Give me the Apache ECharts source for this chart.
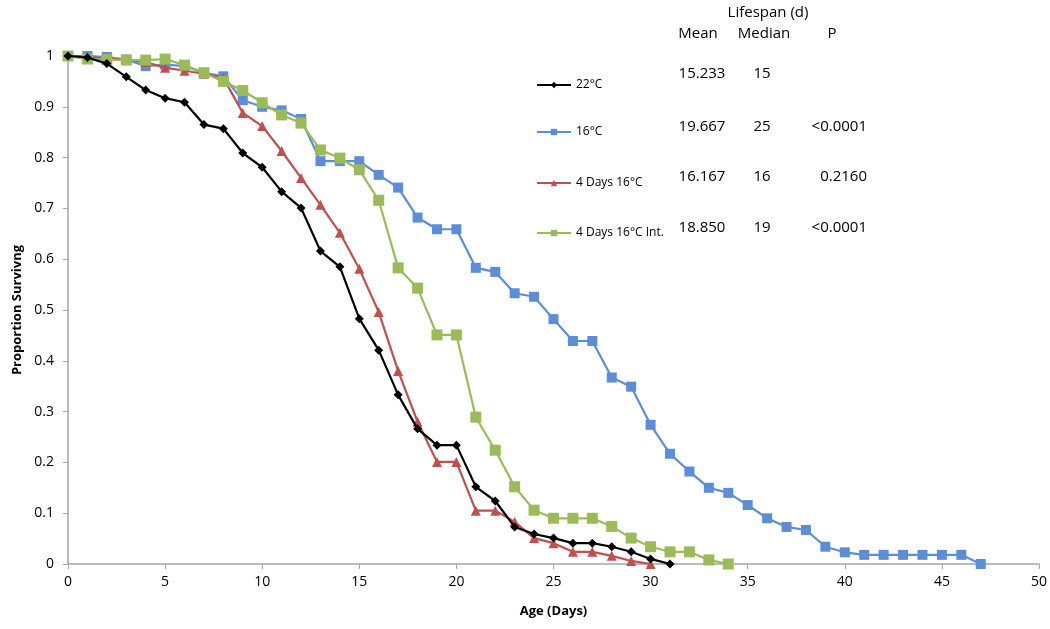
<!DOCTYPE html>
<html>
<head>
<meta charset="utf-8">
<script src="https://cdn.jsdelivr.net/npm/echarts@6/dist/echarts.min.js"></script>
<style>
html,body{margin:0;padding:0;background:#fff;}
#c{width:1050px;height:629px;}
</style>
</head>
<body>
<div id="c"></div>
<script>
// ---- data (proportion surviving per day, starting at day 0) ----
const seriesNames = ['22°C', '16°C', '4 Days 16°C', '4 Days 16°C Int.'];
const surv22 = [1, 0.997, 0.985, 0.959, 0.933, 0.917, 0.909, 0.865, 0.857, 0.809, 0.781, 0.733, 0.701, 0.616, 0.585, 0.483, 0.421, 0.333, 0.266, 0.234, 0.234, 0.152, 0.124, 0.073, 0.059, 0.051, 0.041, 0.041, 0.034, 0.024, 0.010, 0];
const surv16 = [1, 1, 0.998, 0.993, 0.98, 0.983, 0.98, 0.967, 0.96, 0.913, 0.9, 0.893, 0.876, 0.793, 0.793, 0.793, 0.766, 0.741, 0.682, 0.659, 0.659, 0.583, 0.575, 0.533, 0.526, 0.482, 0.439, 0.439, 0.367, 0.349, 0.274, 0.217, 0.182, 0.150, 0.140, 0.116, 0.090, 0.073, 0.067, 0.034, 0.023, 0.018, 0.018, 0.018, 0.018, 0.018, 0.018, 0];
const surv4d = [1, 0.998, 0.995, 0.993, 0.988, 0.977, 0.971, 0.965, 0.957, 0.888, 0.862, 0.813, 0.760, 0.707, 0.652, 0.581, 0.496, 0.380, 0.280, 0.201, 0.201, 0.105, 0.105, 0.083, 0.051, 0.041, 0.024, 0.024, 0.016, 0.006, 0];
const surv4dInt = [1, 0.994, 0.993, 0.992, 0.992, 0.994, 0.982, 0.967, 0.95, 0.932, 0.908, 0.884, 0.868, 0.815, 0.799, 0.776, 0.716, 0.583, 0.543, 0.451, 0.451, 0.289, 0.224, 0.152, 0.106, 0.090, 0.090, 0.090, 0.074, 0.051, 0.034, 0.024, 0.024, 0.008, 0];

// ---- lifespan table ----
const tableTitle = 'Lifespan (d)';
const tableHeaders = ['Mean', 'Median', 'P'];
const means = ['15.233', '19.667', '16.167', '18.850'];
const medians = ['15', '25', '16', '19'];
const pValues = ['', '<0.0001', '0.2160', '<0.0001'];

const colors = ['#000000', '#5b8ed6', '#c0504d', '#9bbb59'];
const symbols = ['diamond', 'rect', 'triangle', 'rect'];
const symbolSizes = [9, 10, 10, 11];
const allData = [surv22, surv16, surv4d, surv4dInt];
const zs = [5, 2, 3, 4];

const FONT = '"Open Sans", "Liberation Sans", sans-serif';

const series = allData.map((arr, i) => ({
  name: seriesNames[i],
  type: 'line',
  data: arr.map((v, d) => [d, v]),
  symbol: symbols[i],
  symbolSize: symbolSizes[i],
  showAllSymbol: true,
  z: zs[i],
  lineStyle: { color: colors[i], width: 2.2 },
  itemStyle: { color: colors[i] },
  emphasis: { disabled: true },
  animation: false
}));

const legendCenters = [85, 132, 183, 233];
const legends = seriesNames.map((n, i) => ({
  data: [n],
  left: 536,
  top: legendCenters[i] - 6,
  padding: 0,
  itemWidth: 34,
  itemHeight: 8,
  selectedMode: false,
  textStyle: { fontFamily: FONT, fontSize: 12, color: '#000' }
}));

const rowCenters = [74, 127, 177, 228];
const graphics = [];
const tfont = '15px ' + FONT;
graphics.push({ type: 'text', x: 768, y: 13, style: { text: tableTitle, font: tfont, fill: '#000', align: 'center', verticalAlign: 'middle' } });
const headerX = [698, 764, 832];
tableHeaders.forEach((h, j) => {
  graphics.push({ type: 'text', x: headerX[j], y: 34, style: { text: h, font: tfont, fill: '#000', align: 'center', verticalAlign: 'middle' } });
});
rowCenters.forEach((y, i) => {
  graphics.push({ type: 'text', x: 702, y: y, style: { text: means[i], font: tfont, fill: '#000', align: 'center', verticalAlign: 'middle' } });
  graphics.push({ type: 'text', x: 762, y: y, style: { text: medians[i], font: tfont, fill: '#000', align: 'center', verticalAlign: 'middle' } });
  if (pValues[i]) graphics.push({ type: 'text', x: 867, y: y, style: { text: pValues[i], font: tfont, fill: '#000', align: 'right', verticalAlign: 'middle' } });
});

const chart = echarts.init(document.getElementById('c'), null, { renderer: 'canvas' });
chart.setOption({
  backgroundColor: '#ffffff',
  animation: false,
  grid: { left: 68, right: 7, top: 56, bottom: 65, containLabel: false },
  xAxis: {
    type: 'value', min: 0, max: 50, interval: 5,
    name: 'Age (Days)', nameLocation: 'middle', nameGap: 41,
    nameTextStyle: { fontFamily: FONT, fontSize: 13, fontWeight: 'bold', color: '#000' },
    axisLine: { lineStyle: { color: '#a6a6a6', width: 1.5 } },
    axisTick: { show: true, length: 5, lineStyle: { color: '#a6a6a6' } },
    axisLabel: { fontFamily: FONT, fontSize: 14, color: '#000', margin: 11 },
    splitLine: { show: false }
  },
  yAxis: {
    type: 'value', min: 0, max: 1, interval: 0.1,
    name: 'Proportion Survivng', nameLocation: 'middle', nameGap: 42, nameRotate: 90,
    nameTextStyle: { fontFamily: FONT, fontSize: 13, fontWeight: 'bold', color: '#000' },
    axisLine: { show: true, lineStyle: { color: '#a6a6a6', width: 1.5 } },
    axisTick: { show: true, length: 5, lineStyle: { color: '#a6a6a6' } },
    axisLabel: { fontFamily: FONT, fontSize: 14, color: '#000', margin: 14 },
    splitLine: { show: false }
  },
  legend: legends,
  graphic: graphics,
  series: series
});
</script>
</body>
</html>
